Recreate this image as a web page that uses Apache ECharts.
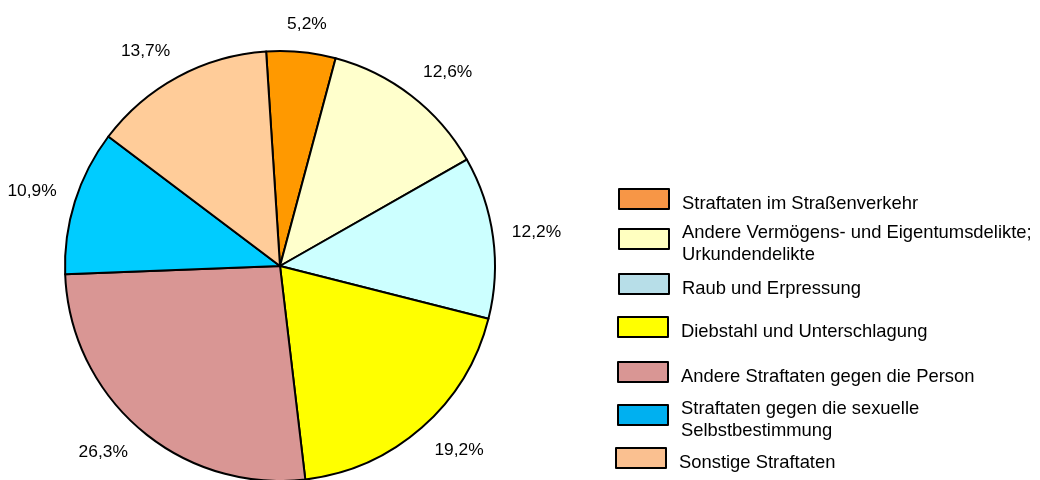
<!DOCTYPE html>
<html>
<head>
<meta charset="utf-8">
<script src="https://cdn.jsdelivr.net/npm/echarts@6/dist/echarts.min.js"></script>
<style>
  html, body { margin: 0; padding: 0; background: #fff; }
  #main { width: 1040px; height: 480px; }
</style>
</head>
<body>
<div id="main"></div>
<script>
// Anteile der Straftaten (Prozent)
var categories = [
  "Straftaten im Straßenverkehr",
  "Andere Vermögens- und Eigentumsdelikte;\nUrkundendelikte",
  "Raub und Erpressung",
  "Diebstahl und Unterschlagung",
  "Andere Straftaten gegen die Person",
  "Straftaten gegen die sexuelle\nSelbstbestimmung",
  "Sonstige Straftaten"
]
var shares = [5.2, 12.6, 12.2, 19.2, 26.3, 10.9, 13.7]
// Farben der Tortenstücke und (leicht abweichend) der Legende
var sliceColors = ["#FF9900", "#FFFFCC", "#CCFFFF", "#FFFF00", "#D99694", "#00CCFF", "#FFCC99"]
var legendColors = ["#F79646", "#FFFFC0", "#B7DEE8", "#FFFF00", "#D99694", "#00B0F0", "#FAC090"]

var font = "Arial, 'Liberation Sans', sans-serif"

// Legende: eine Komponente pro Eintrag, damit die ungleichen Abstände passen
var legendTops = [188, 224, 273, 316, 361, 400, 447]
var legendLefts = [618, 618, 618, 617, 617, 617, 615]
var legends = categories.map(function (name, i) {
  return {
    orient: "vertical",
    left: legendLefts[i],
    top: legendTops[i],
    padding: 0,
    icon: "rect",
    itemWidth: 50,
    itemHeight: 20,
    selectedMode: false,
    data: [{
      name: name,
      itemStyle: { color: legendColors[i], borderColor: "#000", borderWidth: 2 }
    }],
    formatter: function (n) { return "{t|" + n + "}" },
    textStyle: {
      padding: [10, 0, 0, 8],
      rich: {
        t: { fontFamily: font, fontSize: 18.4, lineHeight: 22, color: "#000" }
      }
    }
  }
})

function clamp1(v) { return Math.max(-1, Math.min(1, v)) }

var chart = echarts.init(document.getElementById("main"))
chart.setOption({
  animation: false,
  backgroundColor: "#fff",
  legend: legends,
  series: [{
    type: "pie",
    center: [280, 266],
    radius: 215,
    startAngle: 93.7,
    clockwise: true,
    avoidLabelOverlap: false,
    itemStyle: { borderColor: "#000", borderWidth: 2 },
    emphasis: { disabled: true },
    label: {
      show: true,
      position: "outside",
      fontFamily: font,
      fontSize: 17.4,
      lineHeight: 17,
      color: "#000",
      formatter: function (p) {
        return p.value.toFixed(1).replace(".", ",") + "%"
      }
    },
    // Linie nur für die Richtung der Beschriftung, unsichtbar
    labelLine: { show: true, length: 10, length2: 0, lineStyle: { opacity: 0 } },
    labelLayout: function (p) {
      var pts = p.labelLinePoints
      if (!pts) return {}
      var ux = pts[1][0] - pts[0][0], uy = pts[1][1] - pts[0][1]
      var len = Math.sqrt(ux * ux + uy * uy) || 1
      ux /= len; uy /= len
      var g = 19
      var w = p.labelRect.width, h = p.labelRect.height
      return {
        x: pts[0][0] + ux * g + clamp1(2 * ux) * w / 2,
        y: pts[0][1] + uy * g + clamp1(2 * uy) * h / 2,
        align: "center",
        verticalAlign: "middle"
      }
    },
    data: categories.map(function (name, i) {
      return { name: name, value: shares[i], itemStyle: { color: sliceColors[i] } }
    })
  }]
})
</script>
</body>
</html>
